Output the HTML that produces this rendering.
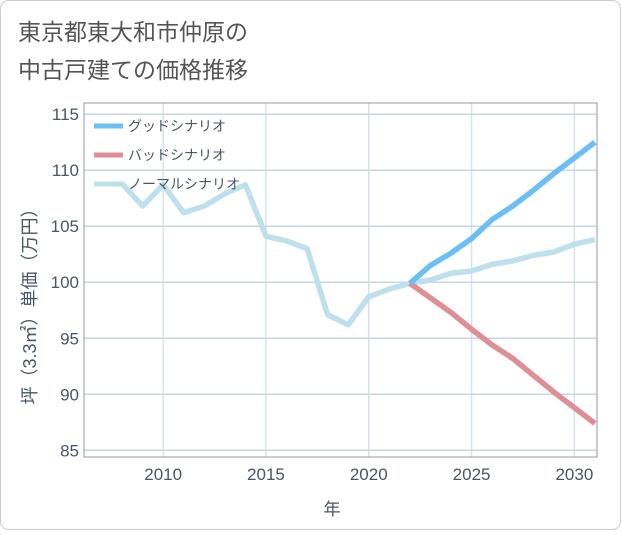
<!DOCTYPE html>
<html><head><meta charset="utf-8"><style>
body{margin:0;background:#fff;font-family:"Liberation Sans","Noto Sans CJK JP",sans-serif;}
</style></head><body>
<svg width="621" height="530" xmlns="http://www.w3.org/2000/svg" font-family="Liberation Sans, Noto Sans CJK JP, sans-serif">
<rect x="0.5" y="0.5" width="620" height="529" rx="8" fill="#fff" stroke="#ccc"/>
<text x="18" y="40" font-size="23" fill="#555">東京都東大和市仲原の</text>
<text x="18" y="78" font-size="23" fill="#555">中古戸建ての価格推移</text>
<g id="grid"></g>
<rect x="84" y="103" width="513" height="354" fill="none" stroke="#999"/>
<g id="ticks"></g>
<g id="lines"></g>
<text x="332" y="515" font-size="17" fill="#4a5568" text-anchor="middle">年</text>
<text transform="translate(36,302) rotate(-90)" font-size="18" fill="#4a5568" text-anchor="middle">坪（3.3㎡）単価（万円）</text>
<g>
<line x1="94" y1="126" x2="123" y2="126" stroke="#6cbff5" stroke-width="5"/>
<text x="128" y="131" font-size="14" fill="#4a5568">グッドシナリオ</text>
<line x1="94" y1="155" x2="123" y2="155" stroke="#df8e95" stroke-width="5"/>
<text x="128" y="160" font-size="14" fill="#4a5568">バッドシナリオ</text>
<line x1="94" y1="184" x2="123" y2="184" stroke="#bde0ec" stroke-width="5"/>
<text x="128" y="189" font-size="14" fill="#4a5568">ノーマルシナリオ</text>
</g>
</svg>
<script>
const normalYears=[2008,2009,2010,2011,2012,2013,2014,2015,2016,2017,2018,2019,2020,2021,2022,2023,2024,2025,2026,2027,2028,2029,2030,2031];
const normalValues=[108.8,106.8,108.7,106.2,106.8,107.9,108.7,104.1,103.7,103.0,97.1,96.2,98.7,99.4,99.9,100.2,100.8,101.0,101.6,101.9,102.4,102.7,103.4,103.8];
const forecastYears=[2022,2023,2024,2025,2026,2027,2028,2029,2030,2031];
const goodValues=[99.9,101.5,102.6,103.9,105.6,106.8,108.2,109.7,111.1,112.5];
const badValues=[99.9,98.6,97.3,95.8,94.4,93.2,91.7,90.2,88.8,87.4];
const xTicks=[2010,2015,2020,2025,2030];
const yTicks=[85,90,95,100,105,110,115];
const X0=84,X1=597,Y0=457,Y1=103,XMIN=2006.15,XMAX=2031.1,YMIN=84.4,YMAX=116;
const xs=v=>X0+(v-XMIN)/(XMAX-XMIN)*(X1-X0);
const ys=v=>Y0-(v-YMIN)/(YMAX-YMIN)*(Y0-Y1);
const NS="http://www.w3.org/2000/svg";
const grid=document.getElementById('grid'),ticks=document.getElementById('ticks'),lines=document.getElementById('lines');
function mk(t,a,p){const e=document.createElementNS(NS,t);for(const k in a)e.setAttribute(k,a[k]);p.appendChild(e);return e;}
xTicks.forEach(t=>{
 const l=mk('line',{x1:xs(t),x2:xs(t),y1:Y1,y2:Y0,stroke:'#d3e3ef','stroke-width':1.5},grid);
 
 
 const tx=mk('text',{x:xs(t),y:Y0+23,'font-size':17,fill:'#4a5568','text-anchor':'middle'},ticks);
 tx.textContent=t;
 
 
});
yTicks.forEach(t=>{
 const l=mk('line',{x1:X0,x2:X1,y1:ys(t),y2:ys(t),stroke:'#c9d7e3','stroke-width':1.5},grid);
 
 
 const tx=mk('text',{x:X0-5,y:ys(t)+6,'font-size':17,fill:'#4a5568','text-anchor':'end'},ticks);
 tx.textContent=t;
 
 
});
function series(years,vals,color,name){
 const p=mk('polyline',{points:years.map((y,i)=>xs(y)+','+ys(vals[i])).join(' '),fill:'none',stroke:color,'stroke-width':5.5,'stroke-linejoin':'round'},lines);
 
 
}
series(normalYears,normalValues,'#bde0ec','normal-scenario-line');
series(forecastYears,badValues,'#df8e95','bad-scenario-line');
series(forecastYears,goodValues,'#6cbff5','good-scenario-line');
</script>
</body></html>
